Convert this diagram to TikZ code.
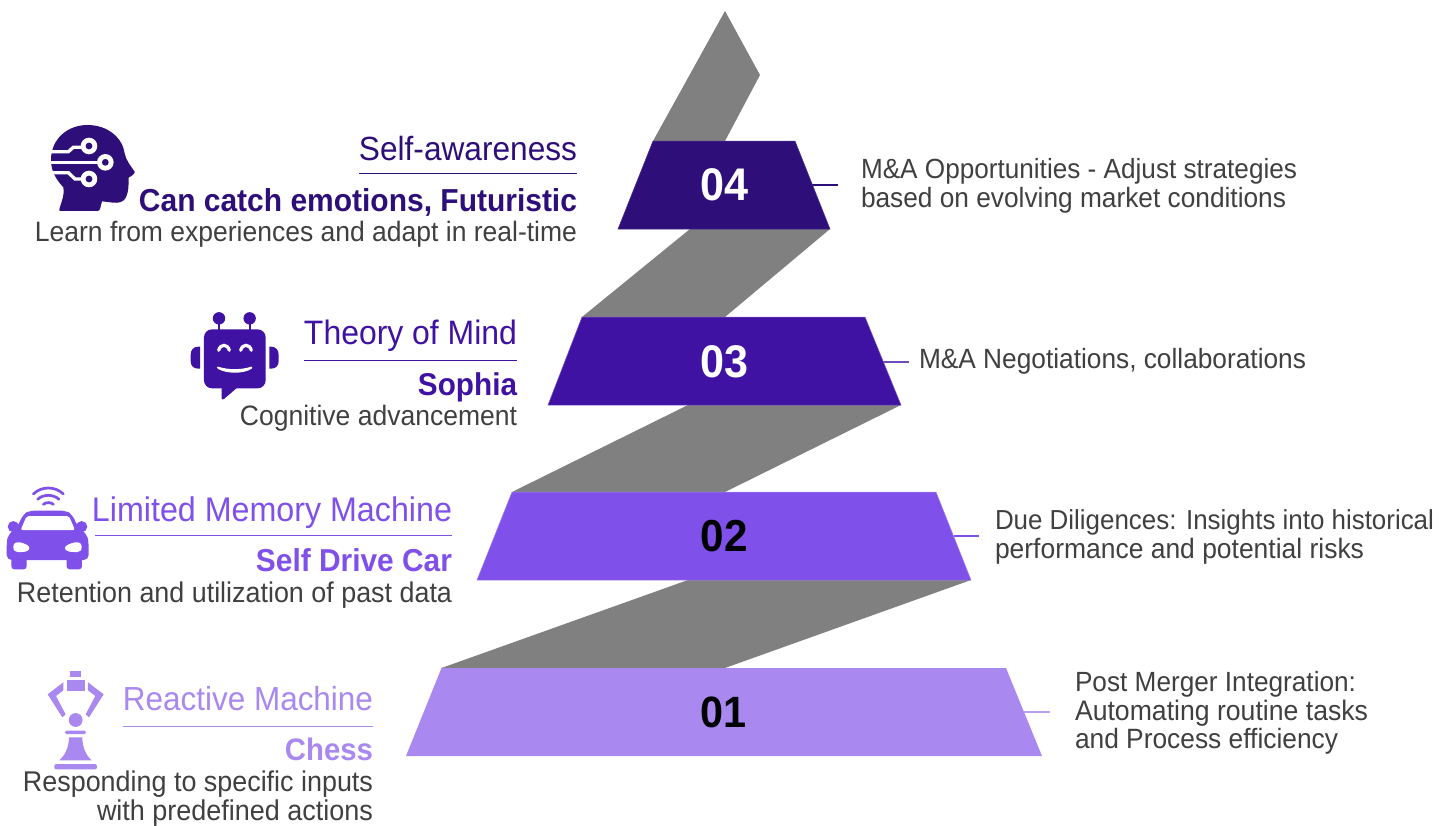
\documentclass[tikz,border=0pt]{standalone}
\usepackage{fontspec}
\setmainfont{Liberation Sans}
\usepackage{graphicx}
\definecolor{cfour}{HTML}{2E0F7A}
\definecolor{cthree}{HTML}{3F12A3}
\definecolor{ctwo}{HTML}{7F50EA}
\definecolor{cone}{HTML}{A988F0}
\definecolor{ribbon}{HTML}{808080}
\definecolor{bodytxt}{HTML}{404040}
\newcommand\fitw[2]{\scalebox{1}[1.06]{\resizebox{#1pt}{!}{#2}}}
\tikzset{
  lab/.style={anchor=base east,inner sep=0pt,outer sep=0pt,yshift=-0.8pt,font=\fontsize{26}{30}\selectfont},
  rlab/.style={anchor=base west,inner sep=0pt,outer sep=0pt,yshift=-0.8pt,text=bodytxt,font=\fontsize{26}{30}\selectfont},
  num/.style={anchor=base,inner sep=0pt,outer sep=0pt,font=\bfseries\fontsize{44}{48}\selectfont},
  rib/.style={fill=ribbon},
  rule/.style={line width=1pt},
  lead/.style={line width=1.2pt},
  trapedge/.style={line width=0.5pt},
}
\begin{document}
\begin{tikzpicture}[x=1pt,y=-1pt]
\useasboundingbox[fill=white] (0,0) rectangle (1453,825);
% ribbons
\fill[rib] (725,11) -- (760,75) -- (725,141) -- (653,141) -- cycle;
\fill[rib] (690,229) -- (830,229) -- (725,317) -- (582,317) -- cycle;
\fill[rib] (688,405) -- (901,405) -- (725,492) -- (512,492) -- cycle;
\fill[rib] (688,580) -- (971,580) -- (725,668) -- (441.5,668) -- cycle;
% leader anchors
\coordinate (l4a) at (811,185); \coordinate (l4b) at (838,185);
\coordinate (l3a) at (883,362); \coordinate (l3b) at (909,362);
\coordinate (l2a) at (954,536); \coordinate (l2b) at (979,536);
\coordinate (l1a) at (1024,712); \coordinate (l1b) at (1050,712);
\draw[lead,cfour] (l4a) -- (l4b);
\draw[lead,cthree!75!white] (l3a) -- (l3b);
\draw[lead,ctwo] (l2a) -- (l2b);
\draw[lead,cone!80!white] (l1a) -- (l1b);
% trapezoids
\filldraw[fill=cfour,draw=cfour!85!white,trapedge] (653,141) -- (795,141) -- (830,229) -- (618,229) -- cycle;
\filldraw[fill=cthree,draw=cthree!70!white,trapedge] (582,317) -- (865,317) -- (901,405) -- (548,405) -- cycle;
\filldraw[fill=ctwo,draw=ctwo!70!white,trapedge] (512,492) -- (936,492) -- (971,580) -- (477,580) -- cycle;
\fill[cone] (441.5,668) -- (1006,668) -- (1042,756) -- (406,756) -- cycle;
% numbers
\node[num,text=white] (n4) at (724,200) {\fitw{48}{04}};
\node[num,text=white] (n3) at (724,377) {\fitw{48}{03}};
\node[num,text=black] (n2) at (724,551.5) {\fitw{47}{02}};
\node[num,text=black] (n1) at (723,727) {\fitw{46}{01}};
% left texts 4
\node[lab,text=cfour] (t4a) at (577,160) {\fitw{218}{Self-awareness}};
\coordinate (r4a) at (359,173); \coordinate (r4b) at (577,173);
\draw[rule,cfour] (r4a) -- (r4b);
\node[lab,text=cfour] (t4b) at (577,211) {\fitw{438}{\bfseries Can catch emotions, Futuristic}};
\node[lab,text=bodytxt] (t4c) at (577,240.5) {\fitw{542}{Learn from experiences and adapt in real-time}};
% left texts 3
\node[lab,text=cthree] (t3a) at (517,344) {\fitw{213}{Theory of Mind}};
\coordinate (r3a) at (304,360); \coordinate (r3b) at (517,360);
\draw[rule,cthree] (r3a) -- (r3b);
\node[lab,text=cthree] (t3b) at (517,395) {\fitw{99}{\bfseries Sophia}};
\node[lab,text=bodytxt] (t3c) at (517,424.5) {\fitw{277}{Cognitive advancement}};
% left texts 2
\node[lab,text=ctwo] (t2a) at (452,521) {\fitw{360}{Limited Memory Machine}};
\coordinate (r2a) at (95,535); \coordinate (r2b) at (452,535);
\draw[rule,ctwo] (r2a) -- (r2b);
\node[lab,text=ctwo] (t2b) at (452,571) {\fitw{196}{\bfseries Self Drive Car}};
\node[lab,text=bodytxt] (t2c) at (452,601.5) {\fitw{435}{Retention and utilization of past data}};
% left texts 1
\node[lab,text=cone] (t1a) at (373,710) {\fitw{250}{Reactive Machine}};
\coordinate (r1a) at (123,726); \coordinate (r1b) at (373,726);
\draw[rule,cone] (r1a) -- (r1b);
\node[lab,text=cone] (t1b) at (373,760) {\fitw{88}{\bfseries Chess}};
\node[lab,text=bodytxt] (t1c) at (373,790.5) {\fitw{350}{Responding to specific inputs}};
\node[lab,text=bodytxt] (t1d) at (373,819.5) {\fitw{276}{with predefined actions}};
% right texts
\node[rlab] (d4a) at (861,177.5) {\fitw{436}{M\&A Opportunities - Adjust strategies}};
\node[rlab] (d4b) at (861,206.5) {\fitw{425}{based on evolving market conditions}};
\node[rlab] (d3a) at (919,367.5) {\fitw{387}{M\&A Negotiations, collaborations}};
\node[rlab] (d2a) at (995,529) {\fitw{439}{Due Diligences: Insights into historical}};
\node[rlab] (d2b) at (995,558) {\fitw{369}{performance and potential risks}};
\node[rlab] (d1a) at (1075,690.5) {\fitw{281}{Post Merger Integration:}};
\node[rlab] (d1b) at (1075,719.5) {\fitw{293}{Automating routine tasks}};
\node[rlab] (d1c) at (1075,748) {\fitw{263}{and Process efficiency}};
% head icon
\begin{scope}[shift={(30,110)},x=0.3333pt,y=-0.3333pt]
\fill[cfour] (88,298) .. controls (96,270) and (105,250) .. (100,232)
  .. controls (75,205) and (63,180) .. (63,150)
  .. controls (63,85) and (115,45) .. (172,45)
  .. controls (235,45) and (278,85) .. (284,130)
  .. controls (288,150) and (300,165) .. (314,185)
  .. controls (316,190) and (305,198) .. (296,203)
  .. controls (296,225) and (296,245) .. (288,262)
  .. controls (282,276) and (265,280) .. (250,278)
  -- (216,274) -- (210,297) .. controls (209,302) and (205,303) .. (200,303)
  -- (94,303) .. controls (88,303) and (86,302) .. (88,298) -- cycle;
\draw[white,line width=3.3pt] (60,125) -- (115,125) -- (130,112) -- (160,112);
\draw[white,line width=3.3pt] (60,157) -- (205,157);
\draw[white,line width=3.3pt] (60,188) -- (115,188) -- (135,207) -- (160,207);
\foreach \cx/\cy in {177/108,226/157,177/207}{
  \fill[white] (\cx,\cy) circle[radius=8.3pt];
  \fill[cfour] (\cx,\cy) circle[radius=3.4pt];
}
\end{scope}
% robot icon
\begin{scope}[shift={(175,300)},x=0.3333pt,y=-0.3333pt]
\fill[cthree,rounded corners=8pt] (87,88) rectangle (272,265);
\fill[cthree] (140,260) -- (140,295) .. controls (140,299) and (144,299) .. (147,297) -- (190,260) -- cycle;
\fill[cthree] (132,55) circle[radius=6.2pt];
\fill[cthree] (224,55) circle[radius=6.2pt];
\draw[cthree,line width=2pt] (132,60) -- (132,92);
\draw[cthree,line width=2pt] (224,60) -- (224,92);
\fill[cthree] (75,140) -- (70,140) .. controls (55,140) and (47,150) .. (47,165) -- (47,183) .. controls (47,197) and (55,206) .. (70,206) -- (75,206) -- cycle;
\fill[cthree] (283,140) -- (288,140) .. controls (303,140) and (311,150) .. (311,165) -- (311,183) .. controls (311,197) and (303,206) .. (288,206) -- (283,206) -- cycle;
\draw[white,line width=3.2pt,line cap=round] (131,151) .. controls (136,131) and (158,131) .. (163,151);
\draw[white,line width=3.2pt,line cap=round] (197,151) .. controls (202,131) and (224,131) .. (229,151);
\fill[white,rounded corners=1pt] (126,199) .. controls (160,210) and (198,210) .. (232,199) -- (232,205) .. controls (205,222) and (155,222) .. (126,205) -- cycle;
\end{scope}
% car icon
\begin{scope}[shift={(0,480)},x=0.3333pt,y=-0.3333pt]
\draw[ctwo,line width=2.7pt,line cap=round] (100,42) .. controls (125,18) and (165,18) .. (190,42);
\draw[ctwo,line width=2.7pt,line cap=round] (113,58) .. controls (130,42) and (160,42) .. (177,58);
\draw[ctwo,line width=2.7pt,line cap=round] (130,73) .. controls (138,66) and (152,66) .. (160,73);
\fill[ctwo] (40,140) circle[radius=5.6pt];
\fill[ctwo] (245,140) circle[radius=5.6pt];
\fill[ctwo,rounded corners=5pt] (52,140) -- (70,103) -- (88,92) -- (198,92) -- (216,103) -- (234,140) -- (262,165) -- (266,190) -- (266,240) -- (20,240) -- (20,190) -- (24,165) -- cycle;
\fill[ctwo,rounded corners=3pt] (34,232) rectangle (80,268);
\fill[ctwo,rounded corners=3pt] (200,232) rectangle (246,268);
\fill[white,rounded corners=2pt] (62,150) -- (80,108) -- (207,108) -- (225,150) -- cycle;
\fill[white] (40,200) .. controls (40,188) and (50,186) .. (60,187) .. controls (72,190) and (88,195) .. (88,204) .. controls (88,212) and (78,216) .. (65,216) -- (52,216) .. controls (44,216) and (40,210) .. (40,200) -- cycle;
\fill[white] (245,200) .. controls (245,188) and (235,186) .. (225,187) .. controls (213,190) and (195,195) .. (195,204) .. controls (195,212) and (207,216) .. (220,216) -- (233,216) .. controls (241,216) and (245,210) .. (245,200) -- cycle;
\end{scope}
% chess icon
\begin{scope}[shift={(35,665)},x=0.3333pt,y=-0.3333pt]
\fill[cone] (105,18) rectangle (138,35);
\fill[cone] (96,45) rectangle (150,78);
\fill[cone] (38,88) -- (85,52) -- (85,76) -- (63,93) -- (92,148) -- (82,157) -- cycle;
\fill[cone] (206,88) -- (159,52) -- (159,76) -- (181,93) -- (152,148) -- (162,157) -- cycle;
\fill[cone] (122,165) circle[radius=6.9pt];
\fill[cone,rounded corners=1.5pt] (90,197) rectangle (153,207);
\fill[cone] (102,217) -- (142,217) .. controls (142,245) and (152,270) .. (170,286) -- (73,286) .. controls (91,270) and (102,245) .. (102,217) -- cycle;
\fill[cone,rounded corners=1.5pt] (58,297) rectangle (186,313);
\end{scope}
\end{tikzpicture}
\end{document}
